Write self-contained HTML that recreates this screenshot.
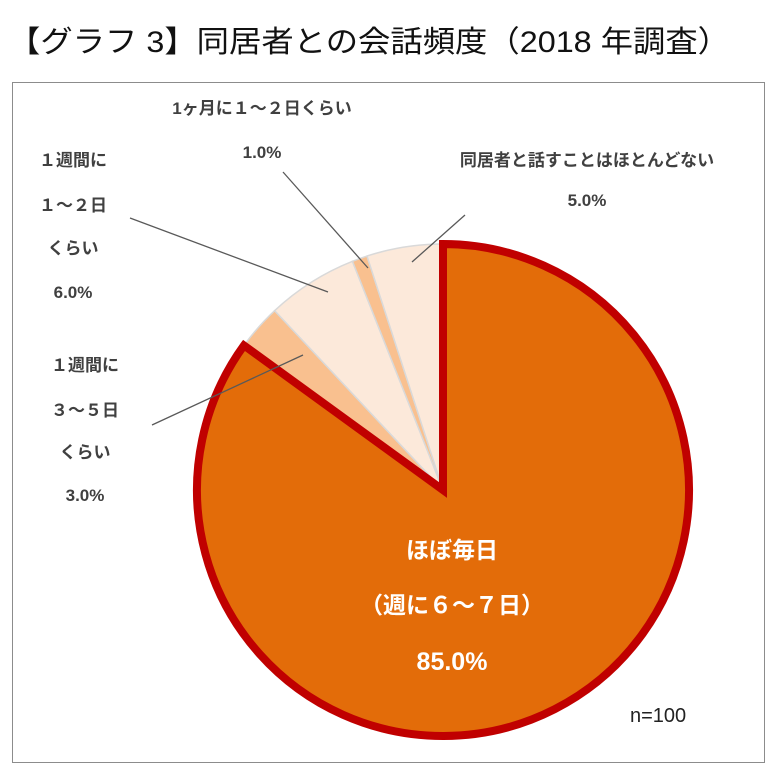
<!DOCTYPE html>
<html><head><meta charset="utf-8"><style>
html,body{margin:0;padding:0;background:#fff}
svg{display:block}
text{font-family:"Liberation Sans","Noto Sans CJK JP",sans-serif}
.lb{font-size:17px;font-weight:bold;fill:#404040}
.big{font-size:23px;font-weight:bold;fill:#fff}
</style></head><body>
<svg width="780" height="781" viewBox="0 0 780 781">
<text x="8" y="52" font-size="30" textLength="722" lengthAdjust="spacingAndGlyphs" fill="#111">【グラフ 3】同居者との会話頻度（2018 年調査）</text>
<rect x="12.5" y="82.5" width="752" height="680" fill="#fff" stroke="#8c8c8c" stroke-width="1"/>
<g id="slices"></g>
<g stroke="#595959" stroke-width="1.3">
<line x1="130" y1="218" x2="328" y2="292"/>
<line x1="283" y1="172" x2="368" y2="268"/>
<line x1="465" y1="215" x2="412" y2="262"/>
<line x1="152" y1="425" x2="303" y2="355"/>
</g>
<g class="lb" text-anchor="middle">
<text x="262" y="114">1ヶ月に１～２日くらい</text>
<text x="262" y="158">1.0%</text>
<text x="587" y="166">同居者と話すことはほとんどない</text>
<text x="587" y="206">5.0%</text>
<text x="73" y="166">１週間に</text>
<text x="73" y="211">１～２日</text>
<text x="73" y="254">くらい</text>
<text x="73" y="298">6.0%</text>
<text x="85" y="371">１週間に</text>
<text x="85" y="416">３～５日</text>
<text x="85" y="458">くらい</text>
<text x="85" y="501">3.0%</text>
</g>
<g class="big" text-anchor="middle">
<text x="452" y="558">ほぼ毎日</text>
<text x="452" y="613">（週に６～７日）</text>
<text x="452" y="670" font-size="25">85.0%</text>
</g>
<text x="630" y="722" font-size="20" fill="#222">n=100</text>
</svg>
<script>
const categories=["ほぼ毎日","3～5日/週","1～2日/週","1～2日/月","ほとんどない"];
const values=[85,3,6,1,5];
const colors=["#E36C09","#F9C08F","#FCE9DA","#F9C08F","#FCE9DA"];
const cx=443,cy=490,r=246;
const g=document.getElementById('slices');
const total=values.reduce((a,b)=>a+b,0);
let a0=0;
const ns="http://www.w3.org/2000/svg";
function pt(a){return [cx+r*Math.sin(a*2*Math.PI),cy-r*Math.cos(a*2*Math.PI)];}
const paths=[];
values.forEach((v,i)=>{
 const a1=a0+v/total;
 const p0=pt(a0),p1=pt(a1);
 const large=(a1-a0)>0.5?1:0;
 const p=document.createElementNS(ns,'path');
 p.setAttribute('d',`M${cx},${cy} L${p0[0]},${p0[1]} A${r},${r} 0 ${large} 1 ${p1[0]},${p1[1]} Z`);
 p.setAttribute('fill',colors[i]);
 if(i===0){p.setAttribute('stroke','#C00000');p.setAttribute('stroke-width','8');p.setAttribute('stroke-linejoin','miter');}
 else{p.setAttribute('stroke','#d9d9d9');p.setAttribute('stroke-width','1.5');}
 
 
 paths.push(p);
 a0=a1;
});
paths.slice(1).forEach(p=>g.appendChild(p));
g.appendChild(paths[0]);
</script>
</body></html>
